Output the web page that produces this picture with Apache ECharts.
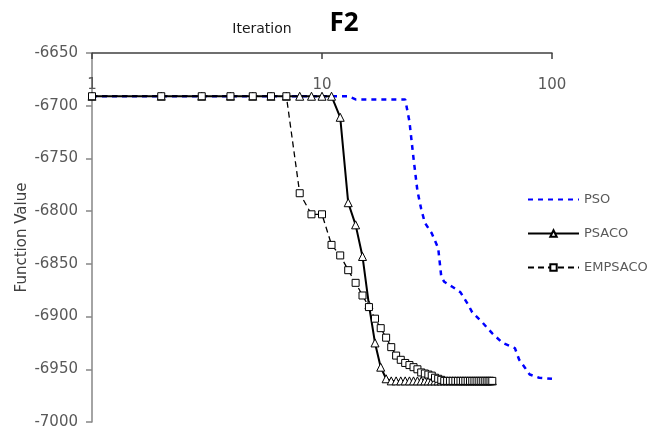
<!DOCTYPE html>
<html><head><meta charset="utf-8">
<script src="https://cdn.jsdelivr.net/npm/echarts@6/dist/echarts.min.js"></script>
<style>html,body{margin:0;padding:0;background:#fff}#c{width:654px;height:431px}</style>
</head><body><div id="c"></div>
<script>
// Tick labels
const xTickLabels = [1, 10, 100];
const yMin = -7000, yMax = -6650, yStep = 50;

// PSO (read at selected iterations)
const psoIter = [1, 13, 14, 23, 24, 25, 26, 27, 28, 30, 32, 33, 34, 37, 40, 43, 45, 50, 55, 61, 69, 72, 76, 80, 88, 100];
const psoVal  = [-6691, -6691, -6694, -6694, -6715, -6750, -6781, -6798, -6811, -6821, -6835, -6862, -6867, -6872, -6877, -6888, -6896, -6906, -6916, -6925, -6930, -6941, -6948, -6955, -6958, -6959];

// PSACO, iterations 1..55
const psacoVal = [
  -6691, -6691, -6691, -6691, -6691, -6691, -6691, -6691, -6691, -6691, -6691,
  -6711, -6792, -6813, -6843, -6889, -6925, -6948, -6959,
  -6961, -6961, -6961, -6961, -6961, -6961, -6961, -6961, -6961, -6961,
  -6961, -6961, -6961, -6961, -6961, -6961, -6961, -6961, -6961, -6961,
  -6961, -6961, -6961, -6961, -6961, -6961, -6961, -6961, -6961, -6961,
  -6961, -6961, -6961, -6961, -6961, -6961
];

// EMPSACO, iterations 1..55
const empsacoVal = [
  -6691, -6691, -6691, -6691, -6691, -6691, -6691,
  -6783, -6803, -6803, -6832, -6842, -6856, -6868, -6880, -6891, -6902, -6911, -6920, -6929,
  -6937, -6941, -6944, -6946, -6948, -6950, -6953, -6954, -6955, -6956, -6958, -6959, -6960,
  -6961, -6961, -6961, -6961, -6961, -6961, -6961, -6961, -6961, -6961, -6961,
  -6961, -6961, -6961, -6961, -6961, -6961, -6961, -6961, -6961, -6961, -6961
];

const names = ['PSO', 'PSACO', 'EMPSACO'];

const pso = psoIter.map((it, i) => [it, psoVal[i]]);
const psaco = psacoVal.map((v, i) => [i + 1, v]);
const empsaco = empsacoVal.map((v, i) => [i + 1, v]);

const FONT = 'DejaVu Sans';
const chart = echarts.init(document.getElementById('c'), null, {renderer: 'canvas'});
chart.setOption({
  animation: false,
  backgroundColor: '#fff',
  grid: {left: 92, right: 102, top: 53, bottom: 9, outerBoundsMode: 'none'},
  graphic: [
    {type: 'text', x: 262, y: 29, style: {text: 'Iteration', align: 'center', verticalAlign: 'middle', font: '14px "DejaVu Sans"', fill: '#1a1a1a'}},
    {type: 'text', x: 344, y: 24, style: {text: 'F2', align: 'center', verticalAlign: 'middle', font: 'bold 26px "Noto Sans"', fill: '#000'}}
  ],
  legend: {
    orient: 'vertical', left: 527, top: 193, padding: 0,
    itemWidth: 51, itemHeight: 8, itemGap: 21,
    textStyle: {fontFamily: FONT, fontSize: 13, color: '#595959'},
    data: [
      {name: names[0], itemStyle: {opacity: 0}},
      {name: names[1]},
      {name: names[2]}
    ]
  },
  xAxis: {
    type: 'log', logBase: 10, min: 1, max: 100, position: 'top',
    axisLine: {onZero: false, lineStyle: {color: '#404040', width: 1.5}},
    axisTick: {inside: true, length: 6, lineStyle: {color: '#404040', width: 1.5}},
    axisLabel: {inside: true, margin: 25, fontFamily: FONT, fontSize: 15, color: '#595959',
      formatter: v => (xTickLabels.indexOf(Math.round(v)) >= 0 ? String(Math.round(v)) : '')},
    splitLine: {show: false}
  },
  yAxis: {
    type: 'value', min: yMin, max: yMax, interval: yStep,
    name: 'Function Value', nameLocation: 'middle', nameGap: 62, nameRotate: 90, nameMoveOverlap: false,
    nameTextStyle: {fontFamily: FONT, fontSize: 15, color: '#404040'},
    axisLine: {show: true, lineStyle: {color: '#868686', width: 1.5}},
    axisTick: {show: true, length: 6, lineStyle: {color: '#868686', width: 1.5}},
    axisLabel: {margin: 14, fontFamily: FONT, fontSize: 15, color: '#595959', formatter: v => String(v)},
    splitLine: {show: false}
  },
  series: [
    {name: 'PSO', type: 'line', data: pso, symbol: 'none', z: 1,
      lineStyle: {color: '#0000FF', width: 2.5, type: [5, 5]}, itemStyle: {color: '#0000FF'}},
    {name: 'PSACO', type: 'line', data: psaco, symbol: 'triangle', symbolSize: 8, showAllSymbol: true, z: 2,
      lineStyle: {color: '#000', width: 2, type: 'solid'},
      itemStyle: {color: '#fff', borderColor: '#000', borderWidth: 1}},
    {name: 'EMPSACO', type: 'line', data: empsaco, symbol: 'rect', symbolSize: 7, showAllSymbol: true, z: 3,
      lineStyle: {color: '#000', width: 1.3, type: [6, 4]},
      itemStyle: {color: '#fff', borderColor: '#000', borderWidth: 1}}
  ]
});
</script>
</body></html>
